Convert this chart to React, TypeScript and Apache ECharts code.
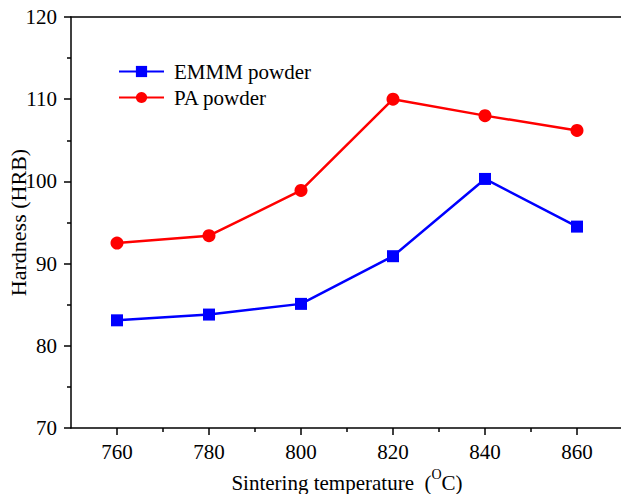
import React, { useEffect, useRef } from "react";
import * as echarts from "echarts";

const temps = [760, 780, 800, 820, 840, 860];
const emmm = [83.1, 83.8, 85.1, 90.9, 100.3, 94.5];
const pa = [92.5, 93.4, 98.9, 110.0, 108.0, 106.2];
const majorX = [760, 780, 800, 820, 840, 860];
const minorX = [770, 790, 810, 830, 850];

const FONT = "Liberation Serif";

export default function App() {
  const ref = useRef<HTMLDivElement>(null);
  useEffect(() => {
    if (!ref.current) return;
    const chart = echarts.init(ref.current, null, { renderer: "svg" });
    const axisLine = { show: true, lineStyle: { color: "#000", width: 1.5 } };
    chart.setOption({
      animation: false,
      backgroundColor: "#fff",
      textStyle: { fontFamily: FONT },
      grid: { left: 71, top: 17, bottom: 66, right: -2, containLabel: false, outerBoundsMode: "none" },
      legend: {
        left: 118,
        top: 61,
        padding: 0,
        orient: "vertical",
        itemWidth: 45,
        itemHeight: 14,
        itemGap: 5,
        textStyle: { fontFamily: FONT, fontSize: 21, color: "#000", padding: [0, 0, 0, 5] },
        data: ["EMMM powder", "PA powder"],
      },
      xAxis: [
        {
          type: "value",
          min: 750,
          max: 870,
          interval: 10,
          position: "bottom",
          axisLine,
          axisTick: { show: true, customValues: majorX, length: 7, lineStyle: { color: "#000", width: 1.5 } },
          axisLabel: {
            customValues: majorX,
            margin: 13,
            fontFamily: FONT,
            fontSize: 21,
            color: "#000",
          },
          splitLine: { show: false },
          name: "{a|Sintering temperature  (}{s|O}{a|C)}",
          nameLocation: "middle",
          nameGap: 39,
          nameMoveOverlap: false,
          nameTextStyle: {
            rich: {
              a: { fontFamily: FONT, fontSize: 21, color: "#000", verticalAlign: "bottom", lineHeight: 26 },
              s: { fontFamily: FONT, fontSize: 14, color: "#000", verticalAlign: "top", lineHeight: 26, padding: [0, 0, 9, 0] },
            },
          },
        },
        {
          type: "value",
          min: 750,
          max: 870,
          interval: 10,
          position: "bottom",
          axisLine: { show: false },
          axisTick: { show: true, customValues: minorX, length: 4, lineStyle: { color: "#000", width: 1.5 } },
          axisLabel: { show: false },
          splitLine: { show: false },
        },
        {
          type: "value",
          min: 750,
          max: 870,
          interval: 10,
          position: "top",
          axisLine,
          axisTick: { show: false },
          axisLabel: { show: false },
          splitLine: { show: false },
        },
      ],
      yAxis: {
        type: "value",
        min: 70,
        max: 120,
        interval: 10,
        axisLine,
        axisTick: { show: true, length: 7, lineStyle: { color: "#000", width: 1.5 } },
        minorTick: { show: true, splitNumber: 2, length: 4, lineStyle: { color: "#000", width: 1.5 } },
        axisLabel: { margin: 14, fontFamily: FONT, fontSize: 21, color: "#000" },
        splitLine: { show: false },
        name: "Hardness (HRB)",
        nameLocation: "middle",
        nameGap: 42,
        nameMoveOverlap: false,
        nameTextStyle: { fontFamily: FONT, fontSize: 22, color: "#000" },
      },
      series: [
        {
          name: "EMMM powder",
          type: "line",
          xAxisIndex: 0,
          data: temps.map((t, i) => [t, emmm[i]]),
          symbol: "rect",
          symbolSize: 12,
          color: "#0000ff",
          lineStyle: { width: 2.5, color: "#0000ff" },
          itemStyle: { color: "#0000ff" },
        },
        {
          name: "PA powder",
          type: "line",
          xAxisIndex: 0,
          data: temps.map((t, i) => [t, pa[i]]),
          symbol: "circle",
          symbolSize: 13,
          color: "#ff0000",
          lineStyle: { width: 2.5, color: "#ff0000" },
          itemStyle: { color: "#ff0000" },
        },
      ],
    });
    return () => chart.dispose();
  }, []);
  return <div ref={ref} style={{ width: 621, height: 494, position: "absolute", left: 0, top: 0 }} />;
}
